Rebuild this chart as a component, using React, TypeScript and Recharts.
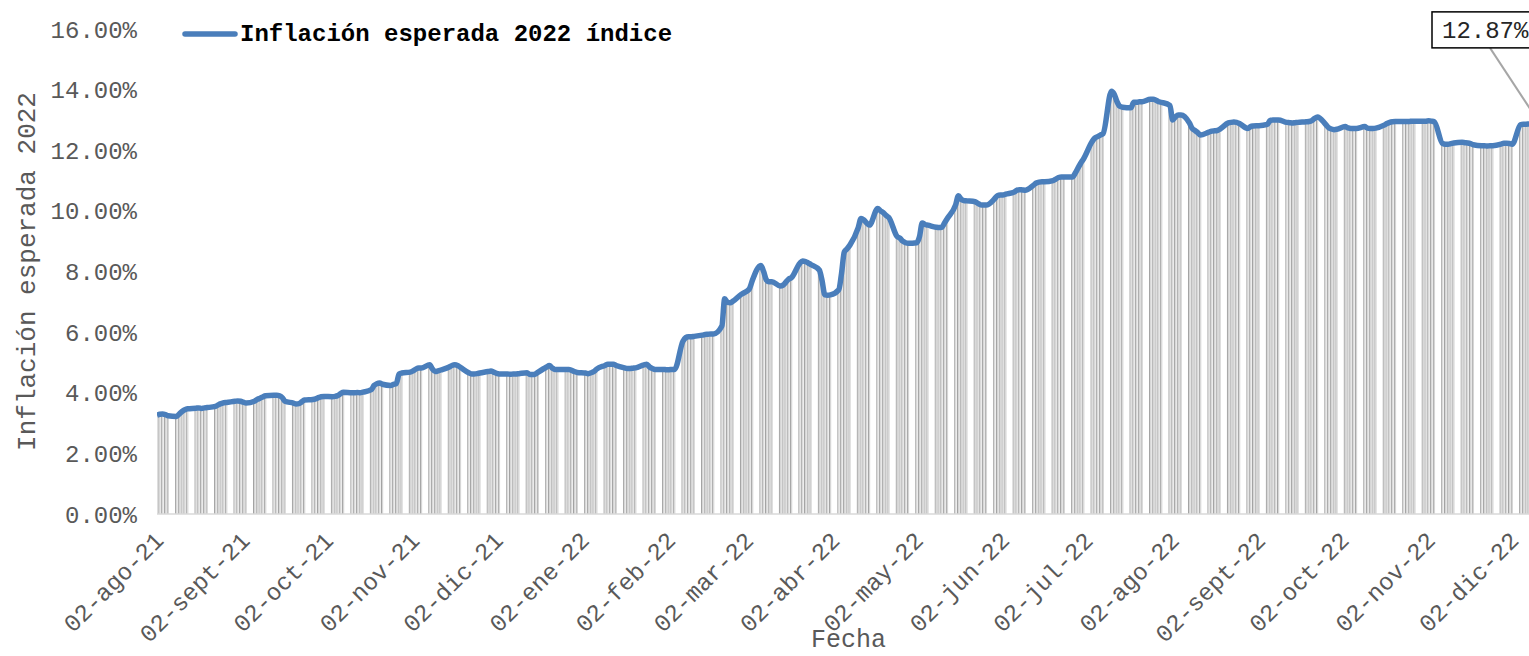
import { Bar, ComposedChart, LabelList, Line, XAxis, YAxis } from 'recharts'

const MONO = '"Liberation Mono", "Courier New", monospace'
const LINE_BLUE = '#4a7ebb'
const AXIS_GREY = '#595959'

// weekday values (Mon..Fri) in %, one row per week starting 02-ago-21
const WEEKS_2021_Q3 = [
  [3.26, 3.29, 3.3, 3.28, 3.24],
  [3.22, 3.3, 3.38, 3.44, 3.47],
  [3.49, 3.5, 3.48, 3.5, 3.51],
  [3.55, 3.6, 3.64, 3.67, 3.68],
  [3.72, 3.73, 3.72, 3.69, 3.66],
  [3.72, 3.78, 3.82, 3.86, 3.9],
  [3.92, 3.92, 3.9, 3.84, 3.72],
  [3.66, 3.63, 3.64, 3.7, 3.76],
  [3.78, 3.8, 3.84, 3.87, 3.88],
]
const WEEKS_2021_Q4 = [
  [3.87, 3.88, 3.91, 3.97, 4.02],
  [4.0, 4.0, 4.01, 4.0, 4.02],
  [4.1, 4.24, 4.3, 4.32, 4.28],
  [4.24, 4.28, 4.3, 4.62, 4.65],
  [4.68, 4.72, 4.78, 4.82, 4.82],
  [4.92, 4.78, 4.7, 4.72, 4.75],
  [4.85, 4.9, 4.92, 4.9, 4.84],
  [4.66, 4.62, 4.62, 4.63, 4.65],
  [4.7, 4.72, 4.68, 4.64, 4.62],
  [4.62, 4.61, 4.62, 4.62, 4.63],
  [4.66, 4.6, 4.6, 4.62, 4.68],
  [4.85, 4.9, 4.82, 4.77, 4.77],
  [4.77, 4.77, 4.74, 4.7, 4.67],
]
const WEEKS_2022_Q1 = [
  [4.65, 4.63, 4.66, 4.7, 4.78],
  [4.9, 4.94, 4.94, 4.94, 4.9],
  [4.82, 4.8, 4.8, 4.81, 4.82],
  [4.92, 4.94, 4.85, 4.8, 4.77],
  [4.77, 4.76, 4.76, 4.77, 4.77],
  [5.7, 5.82, 5.85, 5.85, 5.86],
  [5.9, 5.92, 5.93, 5.94, 5.94],
  [6.2, 7.1, 6.98, 6.97, 7.02],
  [7.25, 7.3, 7.35, 7.45, 7.72],
  [8.2, 8.0, 7.72, 7.66, 7.66],
  [7.52, 7.55, 7.65, 7.75, 7.8],
  [8.27, 8.35, 8.33, 8.28, 8.23],
  [8.05, 7.7, 7.23, 7.22, 7.23],
]
const WEEKS_2022_Q2 = [
  [7.4, 7.94, 8.65, 8.75, 8.87],
  [9.45, 9.75, 9.7, 9.6, 9.53],
  [10.08, 10.0, 9.94, 9.85, 9.78],
  [9.15, 9.1, 9.0, 8.95, 8.93],
  [8.95, 9.15, 9.6, 9.55, 9.53],
  [9.46, 9.45, 9.46, 9.6, 9.75],
  [10.2, 10.5, 10.38, 10.34, 10.33],
  [10.3, 10.25, 10.2, 10.19, 10.19],
  [10.4, 10.5, 10.52, 10.52, 10.55],
  [10.62, 10.68, 10.7, 10.69, 10.68],
  [10.85, 10.92, 10.95, 10.96, 10.96],
  [11.0, 11.05, 11.1, 11.12, 11.12],
  [11.12, 11.25, 11.42, 11.58, 11.72],
]
const WEEKS_2022_Q3 = [
  [12.28, 12.4, 12.45, 12.5, 12.55],
  [13.95, 13.85, 13.6, 13.45, 13.42],
  [13.4, 13.58, 13.58, 13.6, 13.6],
  [13.68, 13.68, 13.65, 13.6, 13.58],
  [13.48, 13.0, 13.1, 13.16, 13.16],
  [12.9, 12.72, 12.65, 12.58, 12.5],
  [12.6, 12.63, 12.64, 12.65, 12.7],
  [12.9, 12.92, 12.93, 12.92, 12.88],
  [12.72, 12.78, 12.8, 12.81, 12.81],
  [12.85, 12.98, 13.0, 13.0, 13.0],
  [12.92, 12.91, 12.9, 12.91, 12.92],
  [12.94, 12.95, 12.98, 13.05, 13.1],
  [12.85, 12.75, 12.7, 12.68, 12.69],
]
const WEEKS_2022_Q4 = [
  [12.78, 12.74, 12.72, 12.72, 12.72],
  [12.78, 12.73, 12.72, 12.72, 12.73],
  [12.83, 12.88, 12.92, 12.94, 12.95],
  [12.95, 12.95, 12.95, 12.96, 12.96],
  [12.96, 12.96, 12.97, 12.96, 12.94],
  [12.22, 12.2, 12.2, 12.22, 12.24],
  [12.26, 12.25, 12.24, 12.22, 12.18],
  [12.15, 12.15, 12.14, 12.15, 12.15],
  [12.2, 12.23, 12.23, 12.22, 12.2],
  [12.84, 12.86, 12.86, 12.87, 12.87],
  [12.87],
]

const START = '2021-08-02'
const TICK_DATES = [
  '2021-08-02', '2021-09-02', '2021-10-02', '2021-11-02', '2021-12-02', '2022-01-02',
  '2022-02-02', '2022-03-02', '2022-04-02', '2022-05-02', '2022-06-02', '2022-07-02',
  '2022-08-02', '2022-09-02', '2022-10-02', '2022-11-02', '2022-12-02',
]
const TICK_LABELS = [
  '02-ago-21', '02-sept-21', '02-oct-21', '02-nov-21', '02-dic-21', '02-ene-22',
  '02-feb-22', '02-mar-22', '02-abr-22', '02-may-22', '02-jun-22', '02-jul-22',
  '02-ago-22', '02-sept-22', '02-oct-22', '02-nov-22', '02-dic-22',
]
const Y_TICKS = [0, 2, 4, 6, 8, 10, 12, 14, 16]

const dayOf = (iso: string) => (Date.parse(iso) - Date.parse(START)) / 86400000
const TICK_DAYS = TICK_DATES.map(dayOf)

const allWeeks = [
  ...WEEKS_2021_Q3,
  ...WEEKS_2021_Q4,
  ...WEEKS_2022_Q1,
  ...WEEKS_2022_Q2,
  ...WEEKS_2022_Q3,
  ...WEEKS_2022_Q4,
]
const rows = allWeeks.flatMap((week, w) => week.map((v, d) => ({ day: w * 7 + d, v })))
const lastDay = rows[rows.length - 1].day

const renderBar = (props: any) => {
  const { x, y, height } = props
  if (!height || height <= 0) return <g />
  return (
    <g>
      <rect x={x} y={y} width={1} height={height} fill="#a3a3a3" />
      <rect x={x + 1} y={y} width={1.2} height={height} fill="#d6d6d6" />
    </g>
  )
}

const XTick = (props: any) => {
  const { x, y, payload } = props
  const label = TICK_LABELS[TICK_DAYS.indexOf(payload.value)]
  const ax = x + 2
  const ay = y + 14
  return (
    <text
      x={ax}
      y={ay}
      dy="0.35em"
      textAnchor="end"
      transform={`rotate(-45 ${ax} ${ay})`}
      fill={AXIS_GREY}
      fontSize={24}
      fontFamily={MONO}
    >
      {label}
    </text>
  )
}

const Callout = (props: any) => {
  const { x, y, index, value } = props
  if (index !== rows.length - 1) return null
  const bx = x - 108
  const by = y - 112
  return (
    <g>
      <line x1={x - 50} y1={by + 36} x2={x} y2={y} stroke="#a6a6a6" strokeWidth={2} />
      <rect x={bx} y={by} width={112} height={36} fill="#fff" stroke="#000" strokeWidth={1.5} />
      <text x={bx + 10} y={by + 26} fontSize={24} fontFamily={MONO} fill="#262626">
        {Number(value).toFixed(2)}%
      </text>
    </g>
  )
}

export default function App() {
  return (
    <div
      style={{
        position: 'fixed',
        left: 0,
        top: 0,
        width: 1529,
        height: 656,
        overflow: 'hidden',
        background: '#fff',
      }}
    >
      <ComposedChart
        width={1600}
        height={656}
        data={rows}
        margin={{ top: 29, right: 60, bottom: 0, left: 0 }}
      >
        <XAxis
          type="number"
          dataKey="day"
          domain={[0, lastDay]}
          ticks={TICK_DAYS}
          interval={0}
          allowDataOverflow
          height={142}
          axisLine={{ stroke: '#d9d9d9', strokeWidth: 1.5 }}
          tickLine={false}
          tick={<XTick />}
          label={{
            content: (p: any) => (
              <text
                x={p.viewBox.x + p.viewBox.width / 2}
                y={647}
                textAnchor="middle"
                fill={AXIS_GREY}
                fontSize={25}
                fontFamily={MONO}
              >
                Fecha
              </text>
            ),
          }}
        />
        <YAxis
          type="number"
          domain={[0, 16]}
          ticks={Y_TICKS}
          interval={0}
          width={157}
          axisLine={false}
          tickLine={false}
          tickMargin={14}
          tick={{ fill: AXIS_GREY, fontSize: 24, fontFamily: MONO }}
          tickFormatter={(v: number) => `${v.toFixed(2)}%`}
          label={{
            content: (p: any) => {
              const cy = p.viewBox.y + p.viewBox.height / 2
              return (
                <text
                  x={35}
                  y={cy}
                  textAnchor="middle"
                  transform={`rotate(-90 35 ${cy})`}
                  fill={AXIS_GREY}
                  fontSize={26}
                  fontFamily={MONO}
                >
                  Inflación esperada 2022
                </text>
              )
            },
          }}
        />
        <Bar dataKey="v" barSize={2} shape={renderBar} isAnimationActive={false} />
        <Line
          type="monotone"
          dataKey="v"
          stroke={LINE_BLUE}
          strokeWidth={5.5}
          dot={false}
          activeDot={false}
          isAnimationActive={false}
        >
          <LabelList dataKey="v" content={<Callout />} />
        </Line>
      </ComposedChart>
      <svg
        width={1529}
        height={60}
        style={{ position: 'absolute', left: 0, top: 0, pointerEvents: 'none' }}
      >
        <line x1={185} y1={34} x2={235} y2={34} stroke={LINE_BLUE} strokeWidth={5.5} strokeLinecap="round" />
        <text x={240} y={41} fontSize={24} fontWeight="bold" fontFamily={MONO} fill="#000">
          Inflación esperada 2022 índice
        </text>
      </svg>
    </div>
  )
}
